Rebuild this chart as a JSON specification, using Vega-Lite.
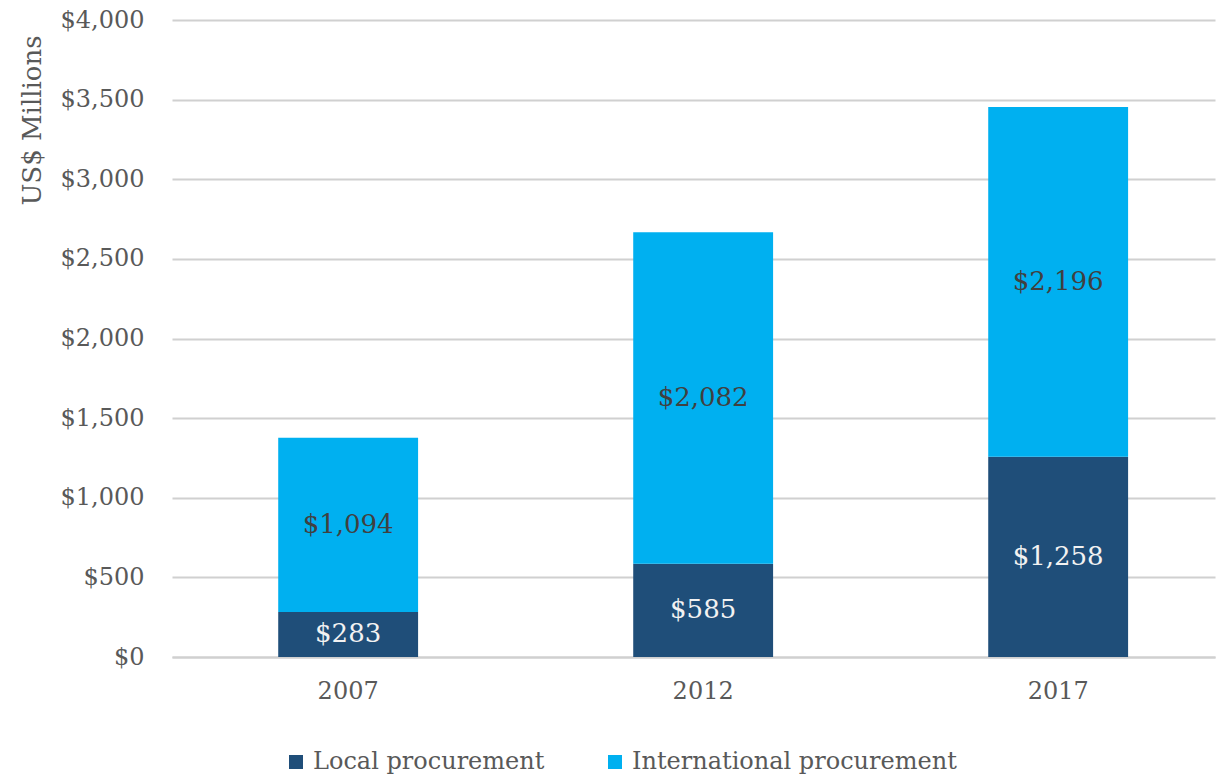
{
  "$schema": "https://vega.github.io/schema/vega-lite/v6.json",
  "width": 1043,
  "height": 637,
  "autosize": {"type": "none"},
  "padding": {"left": 172, "top": 20, "right": 8, "bottom": 118},
  "background": "white",
  "config": {
    "font": "DejaVu Serif",
    "view": {"stroke": null}
  },
  "data": {
    "values": [
      {"year": "2007", "type": "Local procurement", "value": 283},
      {"year": "2007", "type": "International procurement", "value": 1094},
      {"year": "2012", "type": "Local procurement", "value": 585},
      {"year": "2012", "type": "International procurement", "value": 2082},
      {"year": "2017", "type": "Local procurement", "value": 1258},
      {"year": "2017", "type": "International procurement", "value": 2196}
    ]
  },
  "transform": [
    {"stack": "value", "groupby": ["year"], "sort": [{"field": "type", "order": "descending"}], "as": ["v0", "v1"]},
    {"calculate": "(datum.v0 + datum.v1) / 2", "as": "mid"}
  ],
  "encoding": {
    "x": {
      "field": "year",
      "type": "nominal",
      "scale": {"paddingInner": 0.606, "paddingOuter": 0.272, "align": 0.55},
      "axis": {
        "title": null,
        "labelAngle": 0,
        "ticks": false,
        "domain": true,
        "domainColor": "#d0d0d0",
        "domainWidth": 2,
        "labelFont": "DejaVu Serif",
        "labelFontSize": 24,
        "labelColor": "#595959",
        "labelPadding": 22
      }
    }
  },
  "layer": [
    {
      "mark": {"type": "bar"},
      "encoding": {
        "y": {
          "field": "v0",
          "type": "quantitative",
          "scale": {"domain": [0, 4000]},
          "axis": {
            "title": "US$ Millions",
            "values": [0, 500, 1000, 1500, 2000, 2500, 3000, 3500, 4000],
            "format": "$,.0f",
            "ticks": false,
            "domain": false,
            "grid": true,
            "gridColor": "#d0d0d0",
            "gridWidth": 2,
            "labelFont": "DejaVu Serif",
            "labelFontSize": 24,
            "labelColor": "#595959",
            "labelPadding": 28,
            "titleFont": "DejaVu Serif",
            "titleFontSize": 26,
            "titleFontWeight": "normal",
            "titleColor": "#595959",
            "titleAngle": -90,
            "titleX": -140,
            "titleY": 100,
            "titleAlign": "center",
            "titleBaseline": "middle"
          }
        },
        "y2": {"field": "v1"},
        "color": {
          "field": "type",
          "type": "nominal",
          "scale": {
            "domain": ["Local procurement", "International procurement"],
            "range": ["#1f4e79", "#00b0f0"]
          },
          "legend": {
            "title": null,
            "orient": "none",
            "legendX": 112,
            "legendY": 730,
            "direction": "horizontal",
            "symbolType": "square",
            "symbolSize": 196,
            "symbolStrokeWidth": 0,
            "labelFont": "DejaVu Serif",
            "labelFontSize": 24,
            "labelColor": "#595959",
            "labelOffset": 5,
            "labelLimit": 500,
            "columnPadding": 58
          }
        }
      }
    },
    {
      "mark": {"type": "text", "font": "DejaVu Serif", "fontSize": 26, "baseline": "middle", "align": "center"},
      "encoding": {
        "y": {"field": "mid", "type": "quantitative"},
        "text": {"field": "value", "type": "quantitative", "format": "$,.0f"},
        "color": {
          "condition": {"test": "datum.type === 'Local procurement'", "value": "#f2f2f2"},
          "value": "#404040"
        }
      }
    }
  ]
}
